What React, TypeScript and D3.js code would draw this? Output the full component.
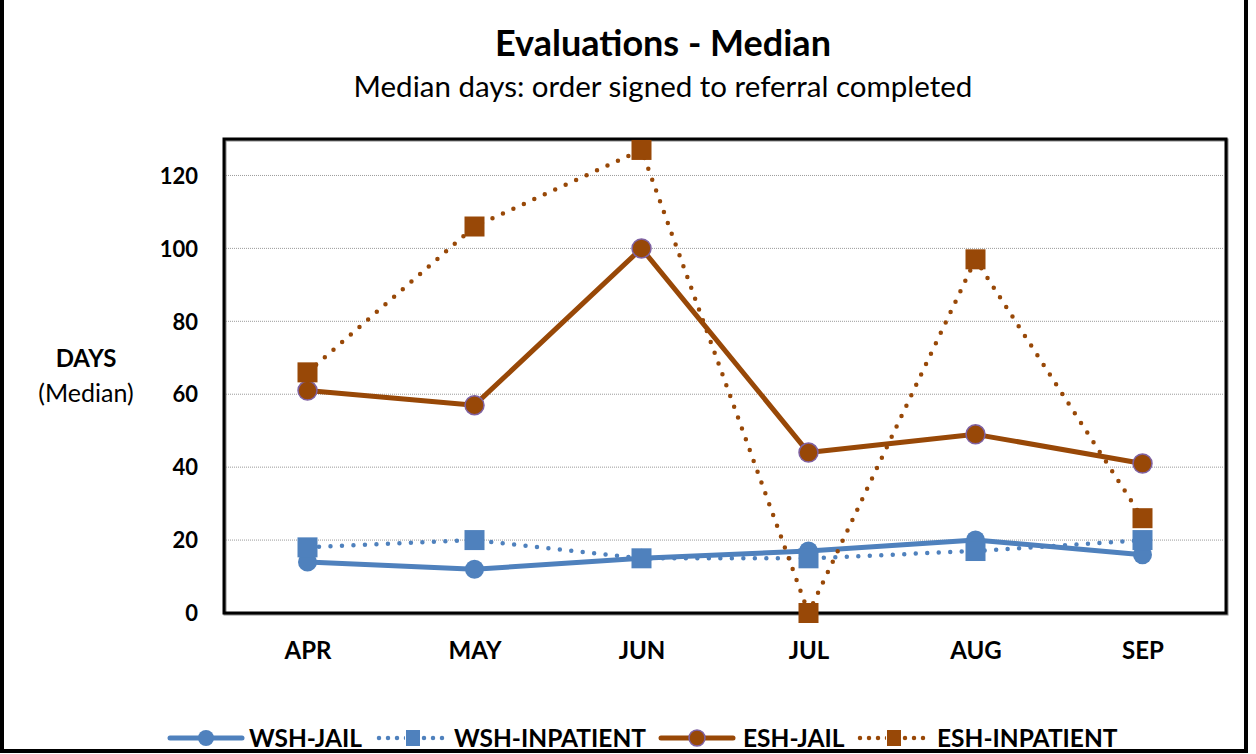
import { useEffect, useRef } from "react";
import * as d3 from "d3";

const months = ["APR", "MAY", "JUN", "JUL", "AUG", "SEP"];
const wshJail = [14, 12, 15, 17, 20, 16];
const wshInpatient = [18, 20, 15, 15, 17, 20];
const eshJail = [61, 57, 100, 44, 49, 41];
const eshInpatient = [66, 106, 127, 0, 97, 26];
const yTicks = [0, 20, 40, 60, 80, 100, 120];

const BLUE = "#4F81BD";
const BROWN = "#984807";
const FONT = "Lato, 'Open Sans', sans-serif";

type Series = {
  name: string;
  values: number[];
  color: string;
  dotted: boolean;
  marker: "circle" | "square";
  outline?: string;
};

const series: Series[] = [
  { name: "WSH-JAIL", values: wshJail, color: BLUE, dotted: false, marker: "circle" },
  { name: "WSH-INPATIENT", values: wshInpatient, color: BLUE, dotted: true, marker: "square" },
  { name: "ESH-JAIL", values: eshJail, color: BROWN, dotted: false, marker: "circle", outline: "#7F62A3" },
  { name: "ESH-INPATIENT", values: eshInpatient, color: BROWN, dotted: true, marker: "square" },
];

const App = () => {
  const svgRef = useRef(null);

  useEffect(() => {
    const W = 1256;
    const H = 754;
    const plot = { left: 224, top: 139, right: 1226, bottom: 613 };

    const svg = d3.select(svgRef.current).attr("width", W).attr("height", H);
    svg.selectAll("*").remove();

    svg.append("rect").attr("width", W).attr("height", H).attr("fill", "#fff");

    // outer frame (top edge out of view)
    svg
      .append("path")
      .attr("d", `M2,-10 L2,751 L1246,751 L1246,-10`)
      .attr("fill", "none")
      .attr("stroke", "#000")
      .attr("stroke-width", 4);

    const x = d3
      .scalePoint()
      .domain(months)
      .range([plot.left, plot.right])
      .padding(0.5);
    const y = d3.scaleLinear().domain([0, 130]).range([plot.bottom, plot.top]);

    // titles
    svg
      .append("text")
      .attr("x", 663)
      .attr("y", 56)
      .attr("text-anchor", "middle")
      .style("font-family", FONT)
      .style("font-weight", "bold")
      .style("font-size", "36px")
      .text("Evaluations - Median");
    svg
      .append("text")
      .attr("x", 663)
      .attr("y", 97)
      .attr("text-anchor", "middle")
      .style("font-family", FONT)
      .style("font-size", "29.5px")
      .text("Median days: order signed to referral completed");

    // gridlines
    svg
      .append("g")
      .selectAll("line")
      .data(yTicks.filter((t) => t > 0))
      .join("line")
      .attr("x1", plot.left + 2)
      .attr("x2", plot.right - 2)
      .attr("y1", (d) => y(d))
      .attr("y2", (d) => y(d))
      .attr("stroke", "#9a9a9a")
      .attr("stroke-width", 1)
      .attr("stroke-dasharray", "1 1");

    // plot border
    svg
      .append("rect")
      .attr("x", plot.left + 1)
      .attr("y", plot.top + 1)
      .attr("width", plot.right - plot.left)
      .attr("height", plot.bottom - plot.top)
      .attr("fill", "none")
      .attr("stroke", "#888")
      .attr("stroke-width", 3);
    svg
      .append("rect")
      .attr("x", plot.left)
      .attr("y", plot.top)
      .attr("width", plot.right - plot.left)
      .attr("height", plot.bottom - plot.top)
      .attr("fill", "none")
      .attr("stroke", "#000")
      .attr("stroke-width", 3);

    // y axis labels
    const yAxis = d3.axisLeft(y).tickValues(yTicks).tickSize(0).tickPadding(0);
    const yg = svg
      .append("g")
      .attr("transform", `translate(198,0)`)
      .call(yAxis);
    yg.select(".domain").remove();
    yg.selectAll("text")
      .attr("dy", "0.35em")
      .style("font-family", FONT)
      .style("font-weight", "bold")
      .style("font-size", "22px")
      .attr("fill", "#000");

    // x axis labels
    const xAxis = d3.axisBottom(x).tickSize(0).tickPadding(0);
    const xg = svg
      .append("g")
      .attr("transform", `translate(0,642)`)
      .call(xAxis);
    xg.select(".domain").remove();
    xg.selectAll("text")
      .attr("dy", "0.71em")
      .style("font-family", FONT)
      .style("font-weight", "bold")
      .style("font-size", "24px")
      .attr("fill", "#000");

    // y title
    svg
      .append("text")
      .attr("x", 86)
      .attr("y", 367)
      .attr("text-anchor", "middle")
      .style("font-family", FONT)
      .style("font-weight", "bold")
      .style("font-size", "24px")
      .text("DAYS");
    svg
      .append("text")
      .attr("x", 86)
      .attr("y", 402)
      .attr("text-anchor", "middle")
      .style("font-family", FONT)
      .style("font-size", "25px")
      .text("(Median)");

    const line = d3
      .line<number>()
      .x((_, i) => x(months[i]) as number)
      .y((d) => y(d));

    series.forEach((s) => {
      const g = svg.append("g");
      g.append("path")
        .attr("d", line(s.values))
        .attr("fill", "none")
        .attr("stroke", s.color)
        .attr("stroke-width", s.dotted ? 4.5 : 5)
        .attr("stroke-linecap", "round")
        .attr("stroke-linejoin", "round")
        .attr("stroke-dasharray", s.dotted ? "0 11.5" : null);
      if (s.marker === "circle") {
        g.selectAll("circle")
          .data(s.values)
          .join("circle")
          .attr("cx", (_, i) => x(months[i]) as number)
          .attr("cy", (d) => y(d))
          .attr("r", 9.5)
          .attr("fill", s.color)
          .attr("stroke", s.outline || s.color)
          .attr("stroke-width", s.outline ? 1.5 : 0);
      } else {
        g.selectAll("rect")
          .data(s.values)
          .join("rect")
          .attr("x", (_, i) => (x(months[i]) as number) - 10)
          .attr("y", (d) => y(d) - 10)
          .attr("width", 20)
          .attr("height", 20)
          .attr("fill", s.color);
      }
    });

    // legend
    const legendX = [170, 377, 661, 858];
    const textX = [249, 454, 743, 937];
    const legendY = 738;
    series.forEach((s, i) => {
      const g = svg.append("g").attr("transform", `translate(${legendX[i]},${legendY})`);
      g.append("line")
        .attr("x1", s.dotted ? 2 : 0)
        .attr("x2", s.dotted ? 68 : 72)
        .attr("stroke", s.color)
        .attr("stroke-width", s.dotted ? 4.5 : 5)
        .attr("stroke-linecap", "round")
        .attr("stroke-dasharray", s.dotted ? "0 9" : null);
      if (s.marker === "circle") {
        g.append("circle")
          .attr("cx", 36)
          .attr("r", 8)
          .attr("fill", s.color)
          .attr("stroke", s.outline || s.color)
          .attr("stroke-width", s.outline ? 1.5 : 0);
      } else {
        g.append("rect")
          .attr("x", 28)
          .attr("y", -9)
          .attr("width", 16)
          .attr("height", 18)
          .attr("fill", "#fff");
        g.append("rect")
          .attr("x", 29)
          .attr("y", -8)
          .attr("width", 14)
          .attr("height", 16)
          .attr("fill", s.color);
      }
      g.append("text")
        .attr("x", textX[i] - legendX[i])
        .attr("y", 9)
        .style("font-family", FONT)
        .style("font-weight", "bold")
        .style("font-size", "24.5px")
        .text(s.name);
    });
  }, []);

  return (
    <div style={{ position: "absolute", left: 0, top: 0 }}>
      <svg ref={svgRef} style={{ display: "block" }} />
    </div>
  );
};

export default App;
